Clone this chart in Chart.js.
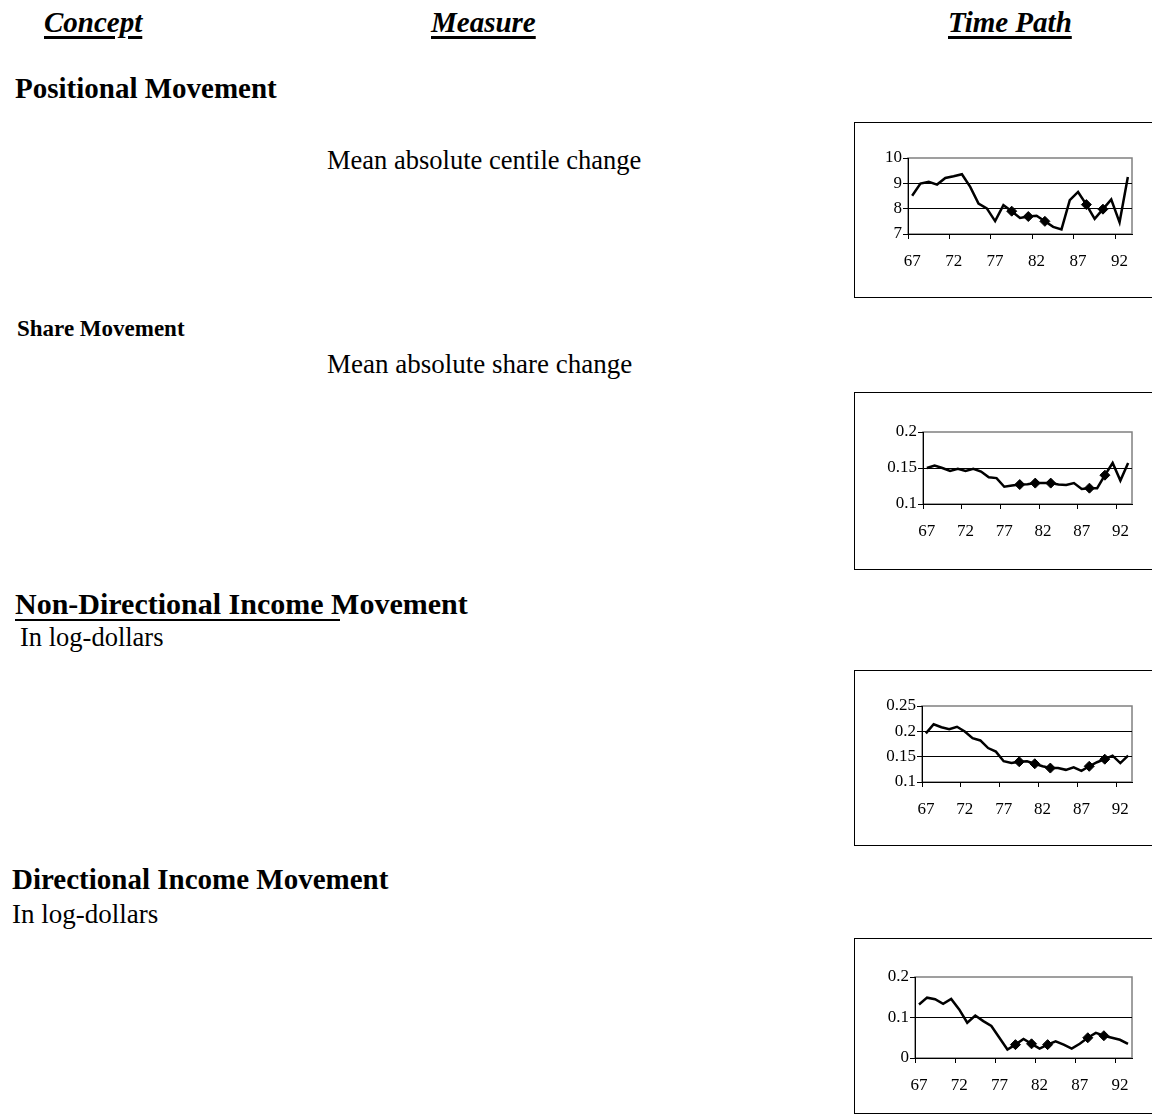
<!DOCTYPE html>
<html>
<head>
<meta charset="utf-8">
<script src="https://cdn.jsdelivr.net/npm/chart.js@4.4.1/dist/chart.umd.min.js"></script>
<style>
  html, body { margin:0; padding:0; background:#fff; }
  body { width:1152px; height:1120px; position:relative; overflow:hidden; font-family:'Liberation Serif','Times New Roman',serif; color:#000; }
  .t { position:absolute; white-space:nowrap; line-height:1; }
  .hdr { font-weight:bold; font-style:italic; font-size:29px; text-decoration:underline; text-decoration-thickness:2.5px; text-underline-offset:4px; }
  .b { font-weight:bold; }
  .box { position:absolute; left:854px; width:330px; border:1px solid #000; box-sizing:border-box; }
  canvas { position:absolute; left:854px; }
</style>
</head>
<body>
<div class="t hdr" style="left:44px;top:8px;">Concept</div>
<div class="t hdr" style="left:431px;top:8px;">Measure</div>
<div class="t hdr" style="left:948px;top:8px;">Time Path</div>

<div class="t b" style="left:15px;top:74px;font-size:29px;">Positional Movement</div>
<div class="t" style="left:327px;top:147px;font-size:26.5px;">Mean absolute centile change</div>

<div class="t b" style="left:17px;top:317px;font-size:23px;">Share Movement</div>
<div class="t" style="left:327px;top:351px;font-size:27px;">Mean absolute share change</div>

<div class="t b" style="left:15px;top:589px;font-size:30px;">Non-Directional Income Movement</div>
<div style="position:absolute;left:15px;top:619px;width:325px;height:1.5px;background:#000;"></div>
<div class="t" style="left:20px;top:624px;font-size:26.5px;">In log-dollars</div>

<div class="t b" style="left:12px;top:865px;font-size:29px;">Directional Income Movement</div>
<div class="t" style="left:12px;top:901px;font-size:27px;">In log-dollars</div>

<div class="box" style="top:122px;height:176px;"></div>
<div class="box" style="top:392px;height:178px;"></div>
<div class="box" style="top:670px;height:176px;"></div>
<div class="box" style="top:938px;height:176px;"></div>

<canvas id="c1" style="top:122px;" width="298" height="176"></canvas>
<canvas id="c2" style="top:392px;" width="298" height="178"></canvas>
<canvas id="c3" style="top:670px;" width="298" height="176"></canvas>
<canvas id="c4" style="top:938px;" width="298" height="176"></canvas>

<script>
// ---- Data ----
const years = ['67','68','69','70','71','72','73','74','75','76','77','78','79','80','81','82','83','84','85','86','87','88','89','90','91','92','93'];
const markerYears = ['79','81','83','88','90'];

const positionalMovement = [8.51, 8.99, 9.06, 8.95, 9.21, 9.28, 9.36, 8.86, 8.20, 8.01, 7.51, 8.14, 7.90, 7.63, 7.69, 7.72, 7.50, 7.28, 7.18, 8.34, 8.66, 8.16, 7.60, 7.98, 8.36, 7.46, 9.25];
const shareMovement = [0.150, 0.1535, 0.150, 0.146, 0.149, 0.146, 0.149, 0.145, 0.137, 0.136, 0.124, 0.1256, 0.127, 0.1274, 0.129, 0.129, 0.129, 0.127, 0.1265, 0.129, 0.121, 0.122, 0.122, 0.140, 0.157, 0.1326, 0.157];
const nonDirectionalMovement = [0.196, 0.214, 0.208, 0.204, 0.209, 0.1996, 0.1865, 0.182, 0.167, 0.160, 0.141, 0.1374, 0.140, 0.141, 0.136, 0.131, 0.1275, 0.1275, 0.124, 0.129, 0.122, 0.131, 0.139, 0.145, 0.152, 0.1374, 0.152];
const directionalMovement = [0.132, 0.149, 0.145, 0.134, 0.146, 0.120, 0.087, 0.105, 0.091, 0.079, 0.050, 0.021, 0.033, 0.047, 0.035, 0.023, 0.033, 0.041, 0.033, 0.023, 0.035, 0.050, 0.062, 0.055, 0.050, 0.045, 0.035];

const yTicks1 = [7, 8, 9, 10];
const yTicks2 = [0.1, 0.15, 0.2];
const yTicks3 = [0.1, 0.15, 0.2, 0.25];
const yTicks4 = [0, 0.1, 0.2];

// ---- Styling / layout ----
Chart.defaults.font.family = "'Liberation Serif','Times New Roman',serif";
Chart.defaults.font.size = 17;
Chart.defaults.color = '#000';

const plotBorder = {
  id: 'plotBorder',
  beforeDraw(chart) {
    const a = chart.chartArea, ctx = chart.ctx;
    ctx.save();
    ctx.strokeStyle = '#808080';
    ctx.lineWidth = 1.5;
    ctx.strokeRect(a.left, a.top, a.right - a.left, a.bottom - a.top);
    ctx.restore();
  }
};

function makeChart(id, values, yTicks, layout) {
  const yMin = yTicks[0], yMax = yTicks[yTicks.length - 1];
  new Chart(document.getElementById(id), {
    type: 'line',
    data: {
      labels: years,
      datasets: [{
        data: values,
        borderColor: '#000',
        borderWidth: 2.5,
        tension: 0,
        fill: false,
        pointStyle: 'rectRot',
        pointRadius: ctx => markerYears.includes(years[ctx.dataIndex]) ? 5 : 0,
        pointBackgroundColor: '#000',
        pointBorderColor: '#000',
        pointBorderWidth: 1
      }]
    },
    options: {
      responsive: false,
      animation: false,
      devicePixelRatio: 1,
      events: [],
      layout: { padding: { top: layout.top, right: layout.right, left: 0, bottom: 0 } },
      plugins: { legend: { display: false }, tooltip: { enabled: false } },
      scales: {
        x: {
          type: 'category',
          offset: true,
          afterFit: s => { s.height = layout.xh; },
          border: { display: true, color: '#000', width: 1 },
          grid: {
            offset: true,
            drawOnChartArea: false,
            drawTicks: true,
            tickLength: 5,
            tickColor: ctx => (ctx.index !== undefined && ctx.index % 5 === 0) ? '#000' : 'rgba(0,0,0,0)'
          },
          ticks: {
            autoSkip: false,
            maxRotation: 0,
            padding: 12,
            callback: (v, i) => (i % 5 === 0 ? years[i] : '')
          }
        },
        y: {
          min: yMin,
          max: yMax,
          afterFit: s => { s.width = layout.yw; },
          afterBuildTicks: s => { s.ticks = yTicks.map(v => ({ value: v })); },
          border: { display: true, color: '#000', width: 1 },
          grid: {
            drawTicks: true,
            tickLength: 5,
            tickColor: '#000',
            lineWidth: 1,
            color: ctx => {
              const v = ctx.tick ? ctx.tick.value : null;
              if (v === null) return 'rgba(0,0,0,0)';
              if (Math.abs(v - yMin) < 1e-9 || Math.abs(v - yMax) < 1e-9) return 'rgba(0,0,0,0)';
              return '#000';
            }
          },
          ticks: {
            padding: 1,
            callback: v => String(Math.round(v * 1000) / 1000)
          }
        }
      }
    },
    plugins: [plotBorder]
  });
}

// layout: top = plot top offset in box, right = padding to canvas edge, yw = y axis width, xh = x axis height
makeChart('c1', positionalMovement, yTicks1, { top: 36, right: 20, yw: 54, xh: 176 - 112 });
makeChart('c2', shareMovement, yTicks2, { top: 40, right: 20, yw: 69, xh: 178 - 112 });
makeChart('c3', nonDirectionalMovement, yTicks3, { top: 36, right: 20, yw: 68, xh: 176 - 112 });
makeChart('c4', directionalMovement, yTicks4, { top: 39, right: 20, yw: 61, xh: 176 - 120 });
</script>
</body>
</html>
